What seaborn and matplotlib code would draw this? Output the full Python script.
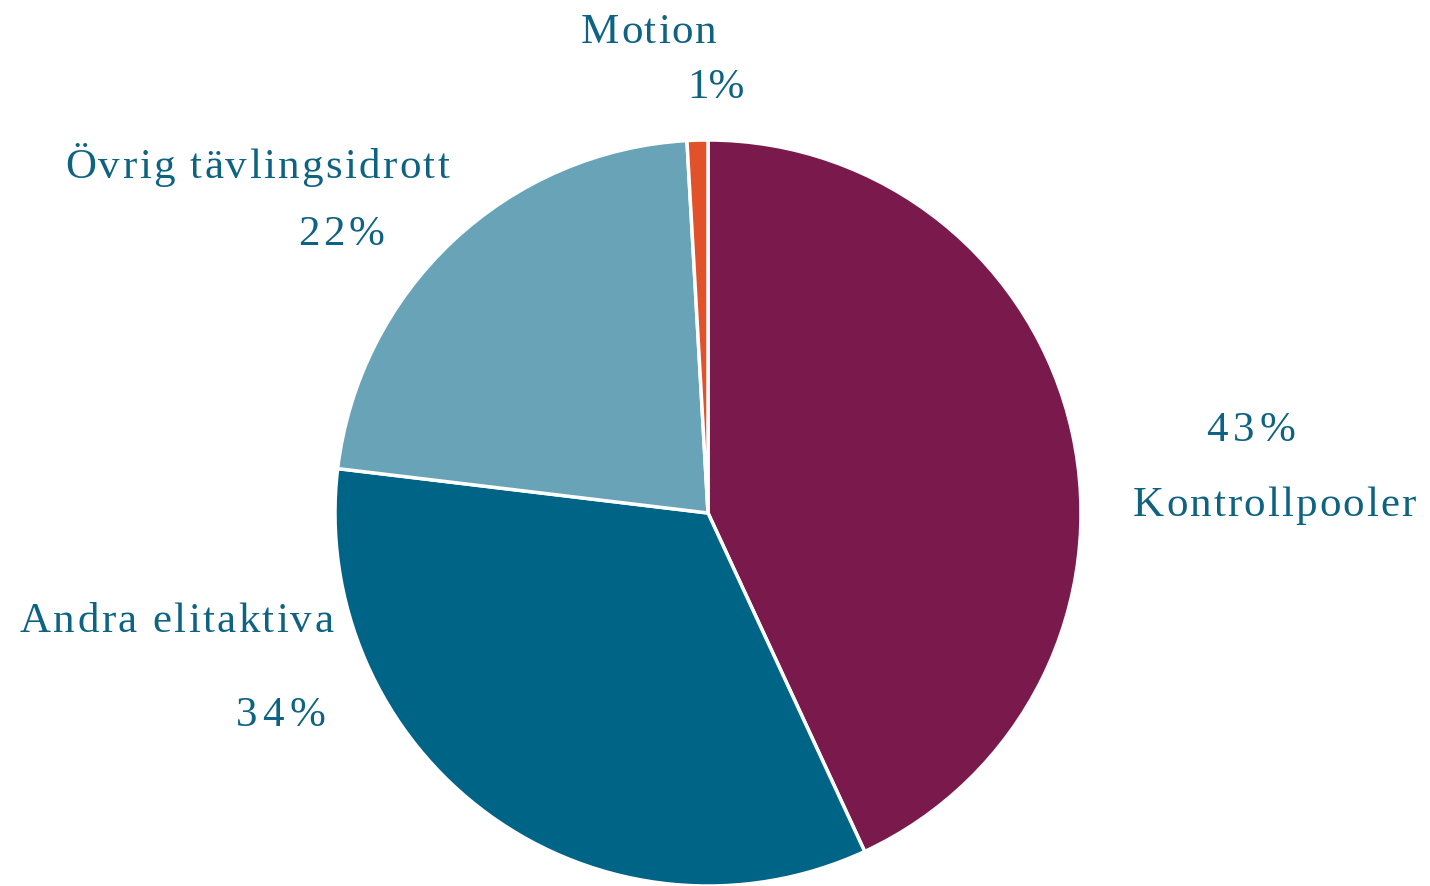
import matplotlib
matplotlib.use("Agg")
import matplotlib.pyplot as plt
from matplotlib.font_manager import FontProperties
import seaborn as sns

categories = ["Kontrollpooler", "Andra elitaktiva", "Övrig tävlingsidrott", "Motion"]
values = [43.1, 33.8, 22.2, 0.9]
pct_labels = ["43%", "34%", "22%", "1%"]
colors = ["#7A1A4C", "#006487", "#68A3B8", "#E2522A"]

sns.set_theme(style="white")
plt.rcParams["font.family"] = ["Liberation Serif", "DejaVu Serif"]

W, H = 1430, 887
fig = plt.figure(figsize=(W / 100, H / 100), dpi=100)
cx, cy, r = 708, 514, 373
ax = fig.add_axes([(cx - r) / W, (H - cy - r) / H, 2 * r / W, 2 * r / H])
ax.pie(values, colors=colors, startangle=90, counterclock=False,
       radius=1, wedgeprops=dict(edgecolor="white", linewidth=2.5))
ax.set_xlim(-1, 1)
ax.set_ylim(-1, 1)
ax.set_aspect("auto")
ax.axis("off")

txt_color = "#0E6282"
fs = 31
prop = FontProperties(family=["Liberation Serif", "DejaVu Serif"], size=fs)
renderer = fig.canvas.get_renderer()


def width(s):
    return renderer.get_text_width_height_descent(s, prop, ismath=False)[0]


def tracked_text(s, left, right, baseline):
    """Draw s spread between pixel left/right (letter-spaced) at baseline."""
    n = len(s)
    natural = width(s)
    track = (right - left - natural) / max(n - 1, 1)
    if track < 0.5:
        fig.text(left / W, 1 - baseline / H, s, ha="left", va="baseline",
                 color=txt_color, fontproperties=prop)
        return
    for i, ch in enumerate(s):
        if ch == " ":
            continue
        x = left + width(s[:i + 1]) - width(ch) + i * track
        fig.text(x / W, 1 - baseline / H, ch, ha="left", va="baseline",
                 color=txt_color, fontproperties=prop)


# label extents in pixels: (name left, name right, name baseline,
#                           pct left, pct right, pct baseline)
pos = {
    "Kontrollpooler": (1133, 1416, 516, 1206, 1295, 441),
    "Andra elitaktiva": (20, 333, 632, 236, 325, 726),
    "Övrig tävlingsidrott": (65, 449, 178, 298, 384, 245),
    "Motion": (581, 716, 43, 687, 740, 98),
}
for cat, pct in zip(categories, pct_labels):
    nl, nr, nb, pl, pr, pb = pos[cat]
    tracked_text(cat, nl, nr, nb)
    tracked_text(pct, pl, pr, pb)

fig.savefig("out.png", dpi=100, facecolor="white")
